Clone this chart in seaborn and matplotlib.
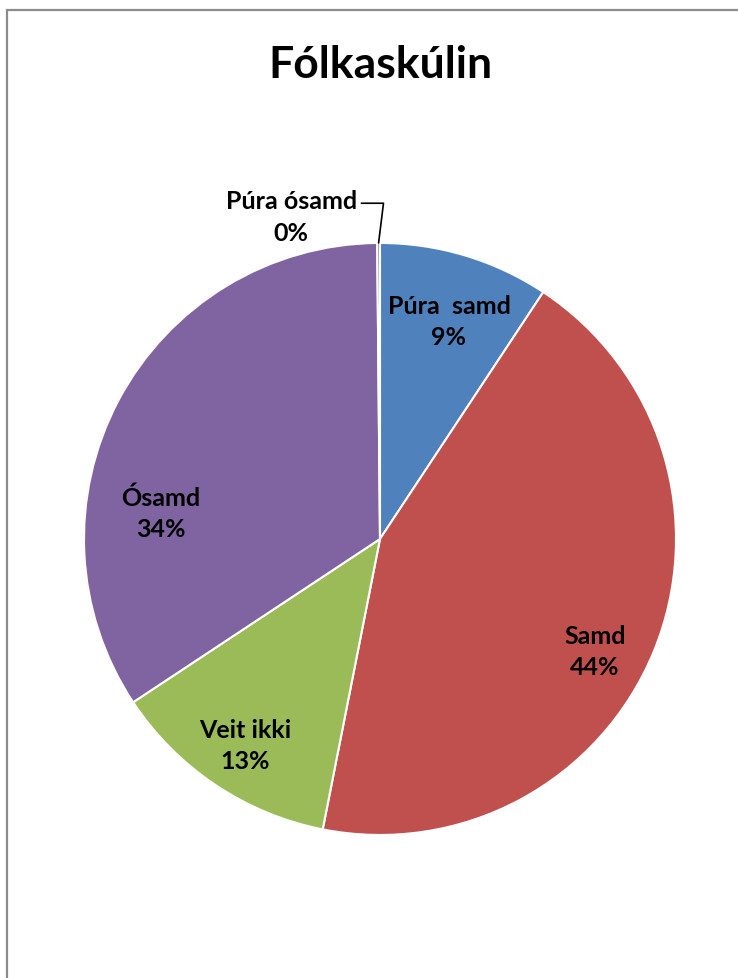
import matplotlib.pyplot as plt
import matplotlib.patches as mpatches
import numpy as np
import seaborn as sns

sns.set_style("white")
plt.rcParams["font.family"] = ["Lato", "DejaVu Sans"]
plt.rcParams["text.color"] = "black"

# answers, clockwise from the top
labels = ["Púra  samd", "Samd", "Veit ikki", "Ósamd", "Púra ósamd"]
shares = [9.3, 43.8, 12.6, 34.15, 0.15]
colors = sns.color_palette(["#4F81BD", "#C0504D", "#9BBB59", "#8064A2", "#8064A2"])

# where Excel put the data labels (pie units, radius = 1)
label_xy = [(0.233, 0.736), (0.726, -0.378), (-0.456, -0.696), (-0.74, 0.088), (-0.30, 1.09)]

fig = plt.figure(figsize=(7.38, 9.79), dpi=100)

# chart frame (only top/left visible, picture is cropped)
fig.patches.append(mpatches.Rectangle((0.0095, -0.2), 1.2, 1.1888, transform=fig.transFigure,
                                      fill=False, edgecolor="#8c8c8c", linewidth=1.6))

fig.text(0.515, 0.934, "Fólkaskúlin", ha="center", va="center", fontsize=32, fontweight="bold")

ax = fig.add_axes([0.1138, 0.1461, 0.8022, 0.6047])
wedges, _ = ax.pie(shares, colors=colors, startangle=90, counterclock=False,
                   wedgeprops=dict(edgecolor="white", linewidth=1.5))
ax.set_xlim(-1, 1)
ax.set_ylim(-1, 1)

for i, (w, lab, val, pos) in enumerate(zip(wedges, labels, shares, label_xy)):
    txt = f"{lab}\n{val:.0f}%"
    if i == len(wedges) - 1:
        mid = np.deg2rad((w.theta1 + w.theta2) / 2)
        ax.annotate(txt, xy=(np.cos(mid), np.sin(mid)), xytext=pos,
                    ha="center", va="center", fontsize=18, fontweight="bold",
                    linespacing=1.45, annotation_clip=False,
                    arrowprops=dict(arrowstyle="-", color="black", lw=1.2,
                                    connectionstyle="angle,angleA=0,angleB=83",
                                    shrinkA=1, shrinkB=0, relpos=(1.0, 0.74)))
    else:
        ax.text(pos[0], pos[1], txt, ha="center", va="center",
                fontsize=18, fontweight="bold", linespacing=1.45)

plt.savefig("out.png", dpi=100)
